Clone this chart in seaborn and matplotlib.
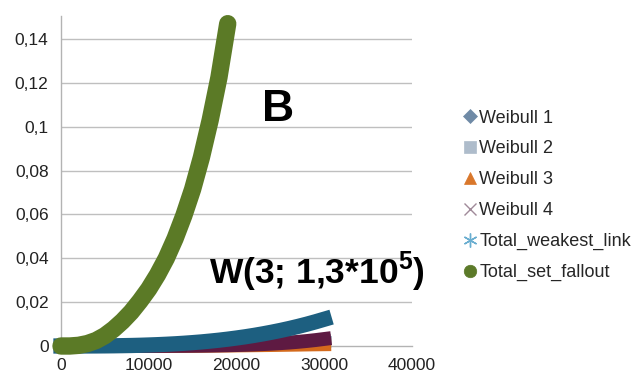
import matplotlib
matplotlib.use("Agg")
import matplotlib.pyplot as plt
from matplotlib.lines import Line2D
import seaborn as sns
import pandas as pd

sns.set_style("white")
plt.rcParams['font.family'] = ['Liberation Sans', 'DejaVu Sans']
plt.rcParams['mathtext.fontset'] = 'custom'
plt.rcParams['mathtext.rm'] = 'Liberation Sans'
plt.rcParams['mathtext.bf'] = 'Liberation Sans:bold'

# ---- data ----
x_w = [0, 1000, 2000, 3000, 4000, 5000, 6000, 7000, 8000, 9000, 10000,
       11000, 12000, 13000, 14000, 15000, 16000, 17000, 18000, 19000, 20000,
       21000, 22000, 23000, 24000, 25000, 26000, 27000, 28000, 29000, 30000]
weibull_1 = [0, 0, 0, 0, 0.00001, 0.00001, 0.00002, 0.00003, 0.00004, 0.00006, 0.00008,
             0.00010, 0.00013, 0.00016, 0.00020, 0.00025, 0.00030, 0.00036, 0.00043, 0.00050, 0.00058,
             0.00067, 0.00077, 0.00088, 0.00099, 0.00112, 0.00125, 0.00139, 0.00154, 0.00170, 0.00150]
weibull_2 = [0, 0, 0, 0, 0.00001, 0.00001, 0.00002, 0.00003, 0.00005, 0.00007, 0.00009,
             0.00012, 0.00016, 0.00020, 0.00025, 0.00031, 0.00037, 0.00044, 0.00052, 0.00061, 0.00071,
             0.00082, 0.00094, 0.00107, 0.00121, 0.00136, 0.00152, 0.00169, 0.00187, 0.00203, 0.00220]
weibull_3 = [0, 0, 0, 0, 0, 0, 0.00001, 0.00001, 0.00002, 0.00002, 0.00003,
             0.00004, 0.00005, 0.00006, 0.00008, 0.00010, 0.00012, 0.00015, 0.00018, 0.00021, 0.00025,
             0.00029, 0.00034, 0.00039, 0.00044, 0.00050, 0.00056, 0.00062, 0.00069, 0.00075, 0.00080]
weibull_4 = [0, 0, 0, 0, 0, 0, 0, 0, 0.00001, 0.00001, 0.00001,
             0.00002, 0.00003, 0.00005, 0.00007, 0.00010, 0.00014, 0.00019, 0.00025, 0.00033, 0.00042,
             0.00054, 0.00068, 0.00085, 0.00105, 0.00129, 0.00156, 0.00189, 0.00227, 0.00270, 0.00320]
total_weakest_link = [0, 0, 0, 0.00001, 0.00003, 0.00006, 0.0001, 0.00016, 0.00023, 0.00033, 0.00046,
                      0.00061, 0.00079, 0.001, 0.00125, 0.00154, 0.00186, 0.00224, 0.00265, 0.00312, 0.00364,
                      0.00421, 0.00484, 0.00553, 0.00628, 0.00709, 0.00797, 0.00892, 0.00994, 0.01104, 0.01221]
x_f = [0, 1000, 2000, 3000, 4000, 5000, 6000, 7000, 8000, 9000, 10000,
       11000, 12000, 13000, 14000, 15000, 16000, 17000, 18000, 19000]
total_set_fallout = [0, 0.0000, 0.0003, 0.0011, 0.0025, 0.0047, 0.0077, 0.0113, 0.0155, 0.0205, 0.0260,
                     0.0325, 0.0400, 0.0490, 0.0595, 0.0715, 0.0860, 0.1030, 0.1225, 0.1470]

series_names = ["Weibull 1", "Weibull 2", "Weibull 3", "Weibull 4",
                "Total_weakest_link", "Total_set_fallout"]
y_ticks = [0, 0.02, 0.04, 0.06, 0.08, 0.1, 0.12, 0.14]
y_labels = ["0", "0,02", "0,04", "0,06", "0,08", "0,1", "0,12", "0,14"]
x_ticks = [0, 10000, 20000, 30000, 40000]
x_labels = ["0", "10000", "20000", "30000", "40000"]

# ---- styles ----
plot_colors = ["#4a6e96", "#a9b6c3", "#d46a1c", "#5e1a42", "#1d5f80", "#5b7a26"]
legend_colors = ["#6f8aa6", "#aebccb", "#d9772b", "#a08a99", "#6aaed0", "#5c7a29"]
legend_markers = ["D", "s", "^", "x", (6, 2, 0), "o"]
legend_msizes = [7, 8.5, 9, 9, 10, 9]
widths = [10, 10, 10, 10, 11, 12.5]

fig = plt.figure(figsize=(6.37, 3.75), dpi=100)
ax = fig.add_axes([61 / 637, 29 / 375, 351 / 637, 330 / 375])

data_list = [(x_w, weibull_1), (x_w, weibull_2), (x_w, weibull_3), (x_w, weibull_4),
             (x_w, total_weakest_link), (x_f, total_set_fallout)]
for i, (xs, ys) in enumerate(data_list):
    df = pd.DataFrame({"x": xs, "y": ys})
    cap = "round" if i == 5 else "projecting"
    sns.lineplot(data=df, x="x", y="y", ax=ax, color=plot_colors[i], linewidth=widths[i],
                 estimator=None, sort=False, legend=False, clip_on=False,
                 solid_capstyle=cap, solid_joinstyle="round", zorder=3 + i)

ax.set_xlim(0, 40000)
ax.set_ylim(0, 0.1505)
ax.set_yticks(y_ticks)
ax.set_yticklabels(y_labels)
ax.set_xticks(x_ticks)
ax.set_xticklabels(x_labels)
ax.set_xlabel("")
ax.set_ylabel("")
for yt in y_ticks[1:]:
    ax.axhline(yt, color="#bfbfbf", linewidth=1.0, zorder=1)
for s in ["top", "right"]:
    ax.spines[s].set_visible(False)
for s in ["left", "bottom"]:
    ax.spines[s].set_color("#b3b3b3")
    ax.spines[s].set_linewidth(1.0)
    ax.spines[s].set_zorder(2)
ax.tick_params(axis="y", length=5, width=1, color="#c4c4c4", direction="out",
               pad=4, labelsize=12.5, labelcolor="#222222")
ax.tick_params(axis="x", length=4, width=1, color="#b3b3b3", direction="out",
               pad=5, labelsize=12.5, labelcolor="#222222")

handles = [Line2D([], [], linestyle="none", marker=legend_markers[i], color=legend_colors[i],
                  markersize=legend_msizes[i],
                  markeredgewidth=1.0 if legend_markers[i] in ("x", (6, 2, 0)) else 0.5)
           for i in range(6)]
leg = fig.legend(handles, series_names, loc="center left",
                 bbox_to_anchor=(463 / 637, (375 - 195.5) / 375), frameon=False,
                 fontsize=13, handlelength=0.8, handletextpad=0.1, labelspacing=0.77,
                 borderpad=0, borderaxespad=0)
for t in leg.get_texts():
    t.set_color("#262626")

fig.text(262 / 637, (375 - 121) / 375, "B", fontsize=32, fontweight="bold",
         ha="left", va="baseline", color="black")
fig.text(209 / 637, (375 - 284) / 375, r"W(3; 1,3*10$^{\mathbf{5}}$)", fontsize=25.5,
         fontweight="bold", ha="left", va="baseline", color="black")

fig.savefig("out.png", dpi=100)
